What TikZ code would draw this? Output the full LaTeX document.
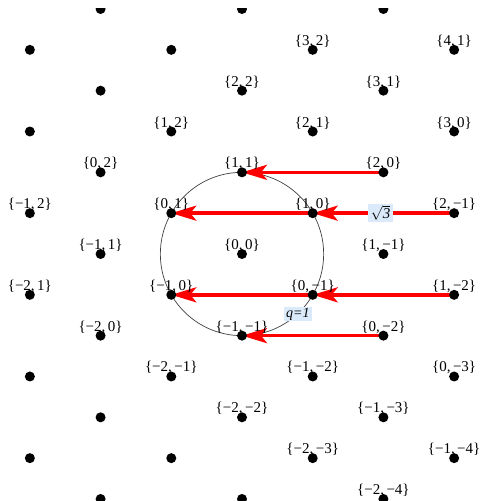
\documentclass[tikz,border=0pt]{standalone}
\usepackage{fontspec}
\setmainfont{Liberation Serif}
\usetikzlibrary{arrows.meta}
\definecolor{lblbg}{RGB}{218,234,250}
\newcommand{\sgnum}[1]{\ifnum#1<0 −\the\numexpr 0-#1\relax\else#1\fi}
\begin{document}
\begin{tikzpicture}[x=1pt,y=1pt,
  dot/.style={circle,fill=black,inner sep=0pt,minimum size=10pt},
  lbl/.style={anchor=base,inner sep=0pt,font=\fontsize{15}{18}\selectfont},
  redarrow/.style={draw=red,line width=3.5pt,-{Stealth[length=25pt,width=15pt,inset=6pt]}},
  ring/.style={draw=black!75,line width=0.7pt},
  tag/.style={fill=lblbg,inner xsep=2.5pt,inner ysep=1.2pt}
]
\useasboundingbox (0,0) rectangle (483,501);
\clip (0,0) rectangle (483,492);
% lattice coordinates
\foreach \c in {-3,...,3} {
  \foreach \s in {-6,...,6} {
    \pgfmathtruncatemacro\pty{mod(abs((\c)+(\s)),2)}
    \ifnum\pty=0
      \pgfmathtruncatemacro\m{((\s)+(\c))/2}
      \pgfmathtruncatemacro\n{((\s)-(\c))/2}
      \coordinate (c\m_\n) at ({242+70.71*(\c)},{247+40.83*(\s)});
    \fi
  }
}
% circle q=1
\draw[ring] (c0_0) circle[radius=81.66];
% arrows
\draw[redarrow] (c2_0) -- (c1_1);
\draw[redarrow] (c2_-1) -- node[tag,pos=0.52,font=\fontsize{15}{18}\selectfont] (r3) {$\sqrt{\hbox{\itshape 3}}$} (c1_0);
\draw[redarrow] (c1_0) -- (c0_1);
\draw[redarrow] (c1_-2) -- (c0_-1);
\draw[redarrow] (c0_-1) -- (c-1_0);
\draw[redarrow] (c0_-2) -- (c-1_-1);
\node[tag,font=\fontsize{14}{16}\selectfont\itshape] (q) at ([shift={(-47:82)}]c0_0) {q=1};
% labels
\foreach \c in {-3,...,3} {
  \foreach \s in {-6,...,5} {
    \pgfmathtruncatemacro\pty{mod(abs((\c)+(\s)),2)}
    \ifnum\pty=0
      \pgfmathtruncatemacro\m{((\s)+(\c))/2}
      \pgfmathtruncatemacro\n{((\s)-(\c))/2}
      \ifnum\m>-3 \ifnum\n<3
        \node[lbl] (l\m_\n) at ([yshift=4.5pt]c\m_\n) {\{\sgnum{\m},\,\sgnum{\n}\}};
      \fi\fi
    \fi
  }
}
% dots
\foreach \c in {-3,...,3} {
  \foreach \s in {-6,...,6} {
    \pgfmathtruncatemacro\pty{mod(abs((\c)+(\s)),2)}
    \ifnum\pty=0
      \pgfmathtruncatemacro\m{((\s)+(\c))/2}
      \pgfmathtruncatemacro\n{((\s)-(\c))/2}
      \node[dot] (d\m_\n) at (c\m_\n) {};
    \fi
  }
}
\end{tikzpicture}
\end{document}
